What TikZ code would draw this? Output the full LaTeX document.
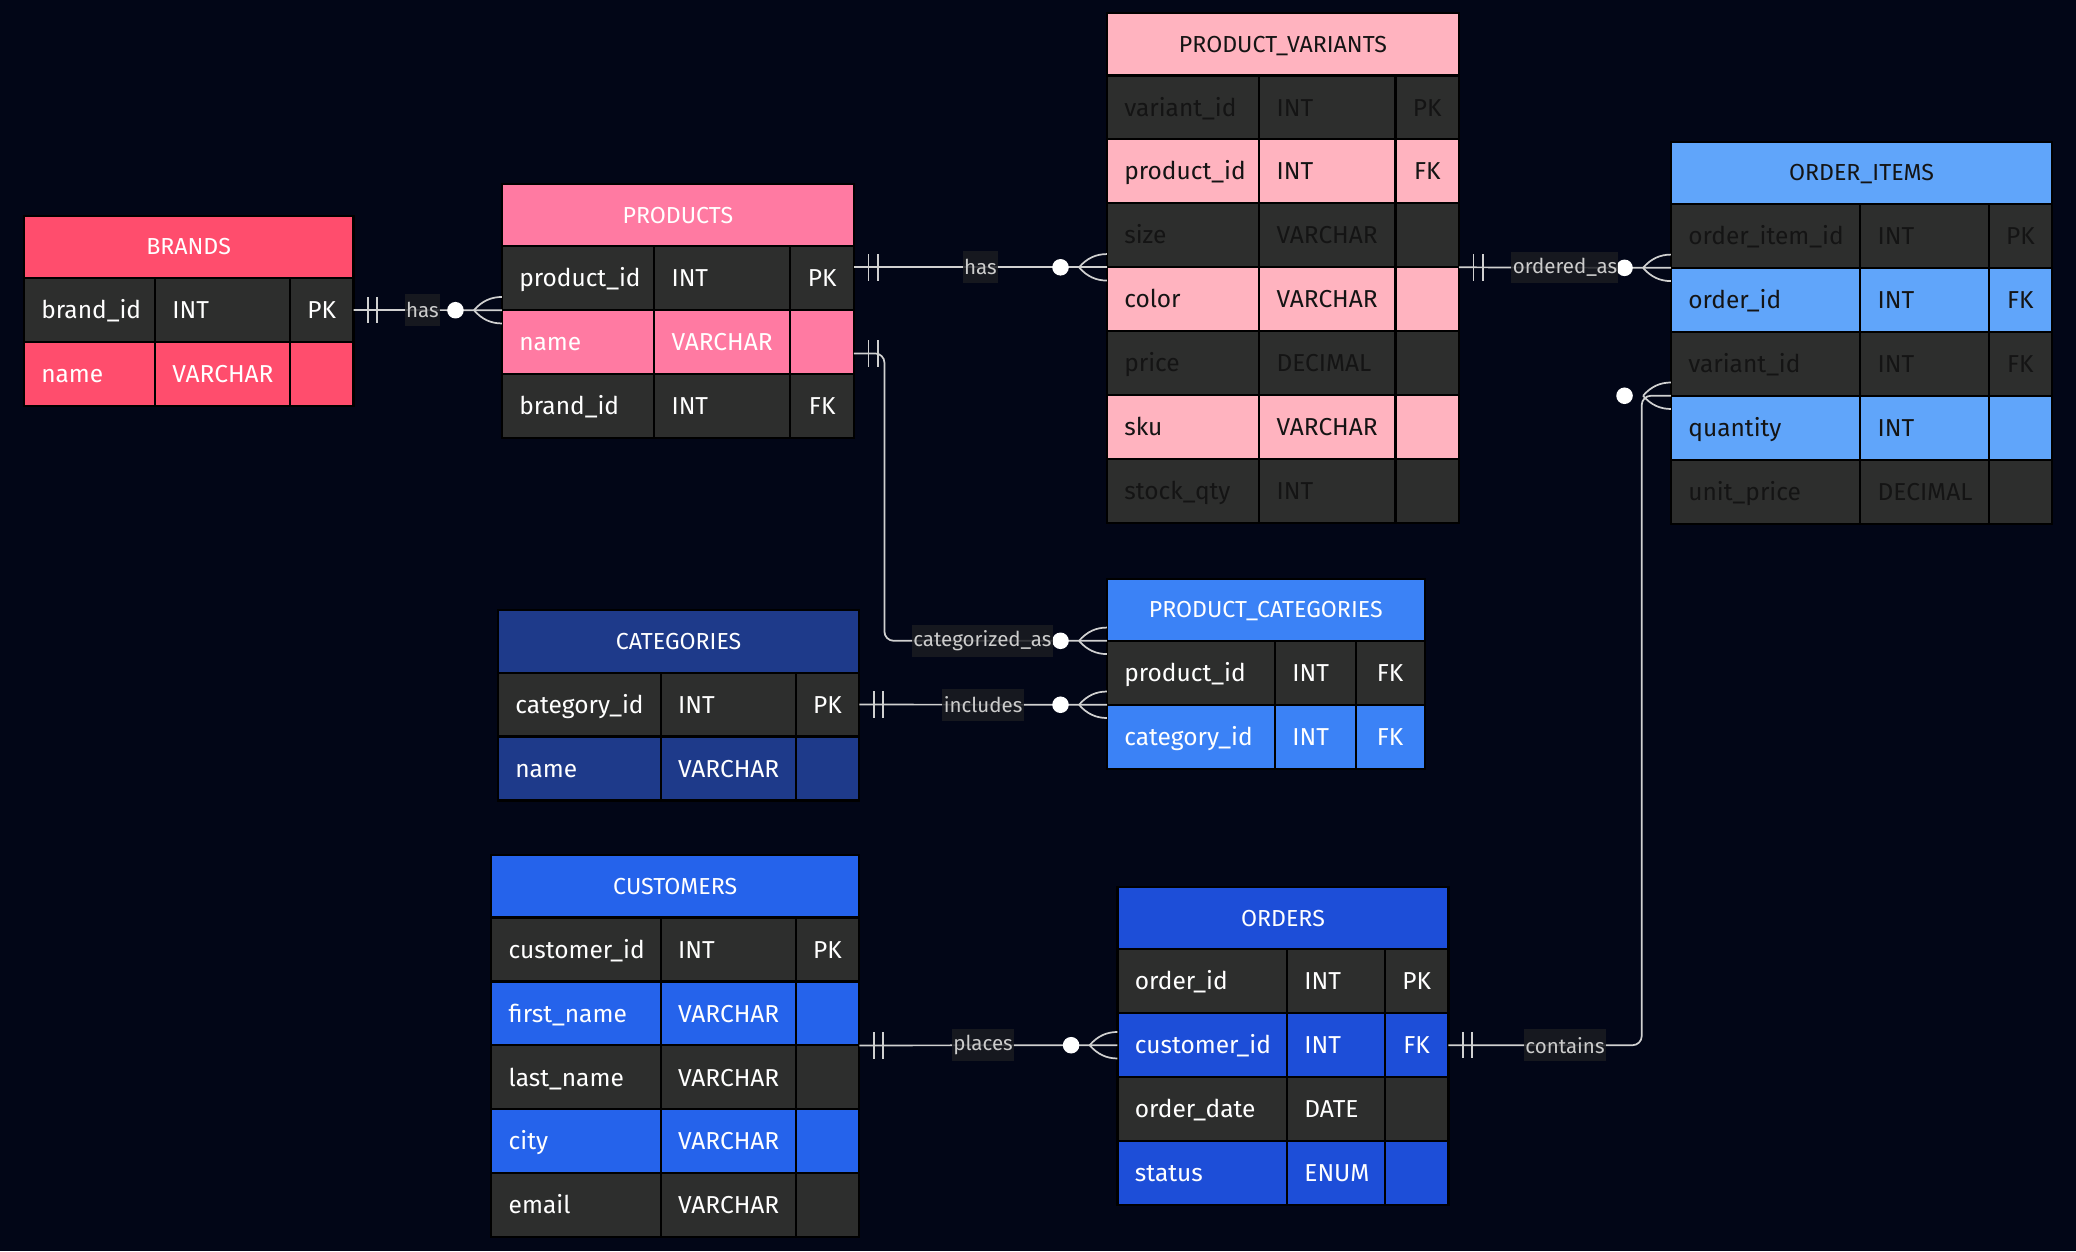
\documentclass[tikz,border=0pt]{standalone}
\usepackage{fontspec}
\setmainfont{Fira Sans}
\usetikzlibrary{calc}
\definecolor{bg}{HTML}{020617}
\definecolor{darkrow}{HTML}{2D2E2D}
\definecolor{linec}{HTML}{D0D0D0}
\definecolor{lblbg}{HTML}{1A1C21}
\definecolor{lbltext}{HTML}{CCCCCC}
\definecolor{cBrands}{HTML}{FF4D6D}
\definecolor{cProducts}{HTML}{FF7AA2}
\definecolor{cVariants}{HTML}{FFB3BF}
\definecolor{cItems}{HTML}{60A5FA}
\definecolor{cCat}{HTML}{1E3A8A}
\definecolor{cPC}{HTML}{3B82F6}
\definecolor{cCust}{HTML}{2563EB}
\definecolor{cOrd}{HTML}{1D4ED8}
\definecolor{txtdark}{HTML}{141414}
\tikzset{
  cell/.style={draw=black, line width=1.6pt, anchor=north west, inner sep=0pt, outer sep=0pt},
  ctext/.style={anchor=base west, inner sep=0pt, font=\fontsize{18.5}{20}\selectfont},
  htext/.style={anchor=base, inner sep=0pt, font=\fontsize{17.5}{20}\selectfont},
  conn/.style={draw=linec, line width=1.3pt},
  lbl/.style={fill=lblbg, fill opacity=0.85, text opacity=1, text=lbltext, inner xsep=1pt, inner ysep=0pt, minimum height=24pt, font=\fontsize{15.5}{17}\selectfont},
  dot/.style={circle, fill=white, inner sep=0pt, minimum size=12.5pt},
}
\newcommand\ertbl[7]{%
  \def\xa{#3}\def\xb{#4}\def\xc{#5}\def\xd{#6}\def\yt{#7}%
  \node[cell, fill=tc, minimum width={(#6-#3)*1pt}, minimum height=47pt] (#1-h) at (#3,#7) {};
  \node[htext, text=tt] at ([yshift=-6pt]#1-h.center) {#2};
}
\newcommand\errow[5]{%
  \pgfmathsetmacro\ry{\yt+47+(#2-1)*48.3}%
  \ifodd#2 \colorlet{rf}{darkrow}\else\colorlet{rf}{tc}\fi
  \node[cell, fill=rf, minimum width={(\xb-\xa)*1pt}, minimum height=48.3pt] (#1-#2a) at (\xa,\ry) {};
  \node[cell, fill=rf, minimum width={(\xc-\xb)*1pt}, minimum height=48.3pt] (#1-#2b) at (\xb,\ry) {};
  \node[cell, fill=rf, minimum width={(\xd-\xc)*1pt}, minimum height=48.3pt] (#1-#2c) at (\xc,\ry) {};
  \node[ctext, text=tt] at ([xshift=13pt,yshift=-6.5pt]#1-#2a.west) {#3};
  \node[ctext, text=tt] at ([xshift=13pt,yshift=-6.5pt]#1-#2b.west) {#4};
  \node[ctext, text=tt, anchor=base] at ([yshift=-6.5pt]#1-#2c.center) {#5};
}
% one-and-only-one mark near a left end point
\newcommand\onemark[1]{%
  \draw[conn] ([xshift=11pt,yshift=10pt]#1) -- ([xshift=11pt,yshift=-10pt]#1);
  \draw[conn] ([xshift=18pt,yshift=10pt]#1) -- ([xshift=18pt,yshift=-10pt]#1);
}
% zero-or-many mark at a right end point
\newcommand\crowmark[1]{%
  \draw[conn] ([xshift=-21pt]#1) .. controls ([xshift=-15pt,yshift=7pt]#1) and ([xshift=-8pt,yshift=10pt]#1) .. ([yshift=10pt]#1);
  \draw[conn] ([xshift=-21pt]#1) .. controls ([xshift=-15pt,yshift=-7pt]#1) and ([xshift=-8pt,yshift=-10pt]#1) .. ([yshift=-10pt]#1);
}
\begin{document}
\begin{tikzpicture}[x=1pt,y=-1pt]
\fill[bg] (0,0) rectangle (1568,945);
\useasboundingbox (0,0) rectangle (1568,945);

% BRANDS
\colorlet{tc}{cBrands}\colorlet{tt}{white}
\ertbl{br}{BRANDS}{18}{117}{219}{267}{163}
\errow{br}{1}{brand\_id}{INT}{PK}
\errow{br}{2}{name}{VARCHAR}{}

% PRODUCTS
\colorlet{tc}{cProducts}\colorlet{tt}{white}
\ertbl{pr}{PRODUCTS}{379}{494}{597}{645}{139}
\errow{pr}{1}{product\_id}{INT}{PK}
\errow{pr}{2}{name}{VARCHAR}{}
\errow{pr}{3}{brand\_id}{INT}{FK}

% PRODUCT_VARIANTS
\colorlet{tc}{cVariants}\colorlet{tt}{txtdark}
\ertbl{pv}{PRODUCT\_VARIANTS}{836}{951}{1054}{1102}{10}
\errow{pv}{1}{variant\_id}{INT}{PK}
\errow{pv}{2}{product\_id}{INT}{FK}
\errow{pv}{3}{size}{VARCHAR}{}
\errow{pv}{4}{color}{VARCHAR}{}
\errow{pv}{5}{price}{DECIMAL}{}
\errow{pv}{6}{sku}{VARCHAR}{}
\errow{pv}{7}{stock\_qty}{INT}{}

% ORDER_ITEMS
\colorlet{tc}{cItems}\colorlet{tt}{txtdark}
\ertbl{oi}{ORDER\_ITEMS}{1262}{1405}{1502}{1550}{107}
\errow{oi}{1}{order\_item\_id}{INT}{PK}
\errow{oi}{2}{order\_id}{INT}{FK}
\errow{oi}{3}{variant\_id}{INT}{FK}
\errow{oi}{4}{quantity}{INT}{}
\errow{oi}{5}{unit\_price}{DECIMAL}{}

% CATEGORIES
\colorlet{tc}{cCat}\colorlet{tt}{white}
\ertbl{ca}{CATEGORIES}{376}{499}{601}{649}{461}
\errow{ca}{1}{category\_id}{INT}{PK}
\errow{ca}{2}{name}{VARCHAR}{}

% PRODUCT_CATEGORIES
\colorlet{tc}{cPC}\colorlet{tt}{white}
\ertbl{pc}{PRODUCT\_CATEGORIES}{836}{963}{1024}{1076}{437}
\errow{pc}{1}{product\_id}{INT}{FK}
\errow{pc}{2}{category\_id}{INT}{FK}

% CUSTOMERS
\colorlet{tc}{cCust}\colorlet{tt}{white}
\ertbl{cu}{CUSTOMERS}{371}{499}{601}{649}{646}
\errow{cu}{1}{customer\_id}{INT}{PK}
\errow{cu}{2}{first\_name}{VARCHAR}{}
\errow{cu}{3}{last\_name}{VARCHAR}{}
\errow{cu}{4}{city}{VARCHAR}{}
\errow{cu}{5}{email}{VARCHAR}{}

% ORDERS
\colorlet{tc}{cOrd}\colorlet{tt}{white}
\ertbl{or}{ORDERS}{844}{972}{1046}{1094}{670}
\errow{or}{1}{order\_id}{INT}{PK}
\errow{or}{2}{customer\_id}{INT}{FK}
\errow{or}{3}{order\_date}{DATE}{}
\errow{or}{4}{status}{ENUM}{}

% ---- connectors ----
% BRANDS -> PRODUCTS
\coordinate (s1) at (br-1c.east);
\coordinate (e1) at (pr-1a.south west);
\draw[conn] (s1) -- (e1);
\onemark{s1}\crowmark{e1}
\node[dot] (d1) at ([xshift=-35pt]e1) {};
\node[lbl] (l1) at ([xshift=-4pt]$(s1)!0.5!(e1)$) {has};

% PRODUCTS -> PRODUCT_VARIANTS
\coordinate (s2) at (pr-1c.east |- pv-3a.south);
\coordinate (e2) at (pv-3a.south west);
\draw[conn] (s2) -- (e2);
\onemark{s2}\crowmark{e2}
\node[dot] (d2) at ([xshift=-35pt]e2) {};
\node[lbl] (l2) at ($(s2)!0.5!(e2)$) {has};

% PRODUCTS -> PRODUCT_CATEGORIES
\coordinate (s3) at ([yshift=-8.5pt]pr-2c.east);
\coordinate (e3) at (pc-h.south west);
\draw[conn, rounded corners=7pt] (s3) -- ++(23,0) |- (e3);
\onemark{s3}\crowmark{e3}
\node[dot] (d3) at ([xshift=-35pt]e3) {};
\node[lbl] (l3) at ([xshift=-94pt]e3) {categorized\_as};

% CATEGORIES -> PRODUCT_CATEGORIES
\coordinate (s4) at (ca-1c.east);
\coordinate (e4) at (pc-1a.south west);
\draw[conn] (s4) -- (e4);
\onemark{s4}\crowmark{e4}
\node[dot] (d4) at ([xshift=-35pt]e4) {};
\node[lbl] (l4) at ($(s4)!0.5!(e4)$) {includes};

% PRODUCT_VARIANTS -> ORDER_ITEMS
\coordinate (s5) at (pv-3c.south east);
\coordinate (e5) at (oi-1a.south west);
\draw[conn] (s5) -- (e5);
\onemark{s5}\crowmark{e5}
\node[dot] (d5) at ([xshift=-35pt]e5) {};
\node[lbl] (l5) at ($(s5)!0.5!(e5)$) {ordered\_as};

% CUSTOMERS -> ORDERS
\coordinate (s6) at (cu-2c.south east);
\coordinate (e6) at (or-2a.west);
\draw[conn] (s6) -- (e6);
\onemark{s6}\crowmark{e6}
\node[dot] (d6) at ([xshift=-35pt]e6) {};
\node[lbl] (l6) at ([xshift=-4pt]$(s6)!0.5!(e6)$) {places};

% ORDERS -> ORDER_ITEMS
\coordinate (s7) at (or-2c.east);
\coordinate (e7) at (oi-3a.south west);
\draw[conn, rounded corners=7pt] (s7) -| ([xshift=-22pt]e7) -- (e7);
\onemark{s7}\crowmark{e7}
\node[dot] (d7) at ([xshift=-35pt]e7) {};
\node[lbl] (l7) at ([xshift=88pt]s7) {contains};
\end{tikzpicture}
\end{document}
